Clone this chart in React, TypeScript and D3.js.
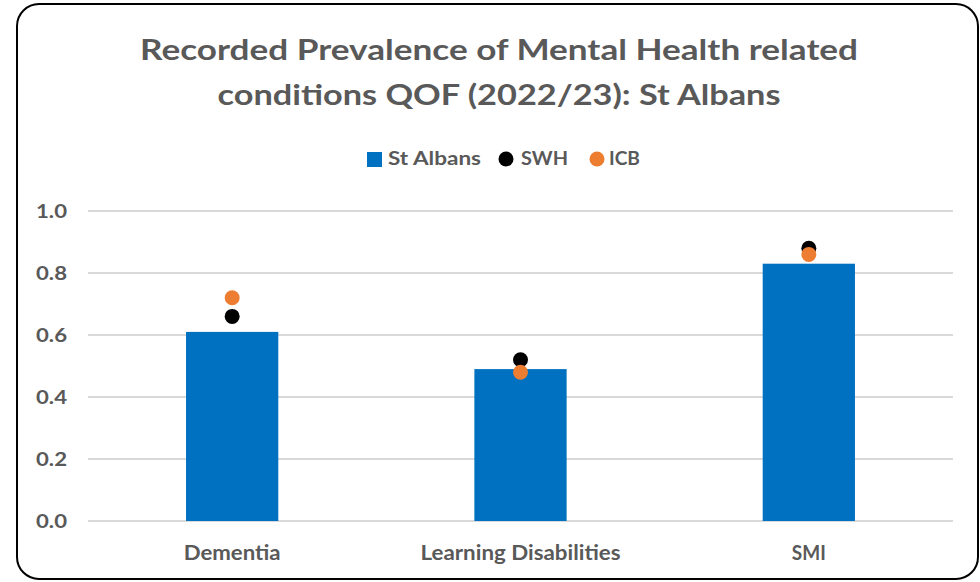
import React from "react";
import * as d3 from "d3";

const categories = ["Dementia", "Learning Disabilities", "SMI"];
const stAlbans = [0.61, 0.49, 0.83];
const swh = [0.66, 0.52, 0.88];
const icb = [0.72, 0.48, 0.86];
const yTicks = [0, 0.2, 0.4, 0.6, 0.8, 1.0];
const titleLines = [
  "Recorded Prevalence of Mental Health related",
  "conditions QOF (2022/23): St Albans",
];
const categoryLabelWidths = [97, 200, 34];

const W = 980;
const H = 582;
const FONT = "Lato, 'Open Sans', sans-serif";
const GREY = "#595959";
const BLUE = "#0070c0";
const ORANGE = "#ed7d31";

export default function App() {
  const x = d3.scaleBand<string>().domain(categories).range([88, 953]).paddingInner(0.68).paddingOuter(0.34);
  const y = d3.scaleLinear().domain([0, 1]).range([521, 211]);
  const bw = x.bandwidth();

  return (
    <svg width={W} height={H} style={{ position: "absolute", left: 0, top: 0 }}>
      <rect x={0} y={0} width={W} height={H} fill="#fff" />
      <rect x={17} y={4} width={961} height={575} rx={22} ry={22} fill="#fff" stroke="#000" strokeWidth={2} />

      {titleLines.map((t, i) => (
        <text
          key={t}
          x={499}
          y={60 + i * 45}
          textAnchor="middle"
          fontFamily={FONT}
          fontWeight={700}
          fontSize={29}
          fill={GREY}
          textLength={i === 0 ? 718 : 563}
          lengthAdjust="spacingAndGlyphs"
        >
          {t}
        </text>
      ))}

      {/* legend */}
      <g fontFamily={FONT} fontWeight={700} fontSize={18} fill={GREY}>
        <rect x={367} y={152} width={15} height={15} fill={BLUE} />
        <text x={388} y={165} textLength={93} lengthAdjust="spacingAndGlyphs">St Albans</text>
        <circle cx={506} cy={159} r={7.5} fill="#000" />
        <text x={521} y={165} textLength={47} lengthAdjust="spacingAndGlyphs">SWH</text>
        <circle cx={597} cy={159} r={7.5} fill={ORANGE} />
        <text x={609} y={165} textLength={31} lengthAdjust="spacingAndGlyphs">ICB</text>
      </g>

      {/* gridlines and y labels */}
      {yTicks.map((t) => (
        <g key={t}>
          <line x1={88} x2={953} y1={y(t)} y2={y(t)} stroke="#d9d9d9" strokeWidth={2} />
          <text
            x={67}
            y={y(t) + 7}
            textAnchor="end"
            fontFamily={FONT}
            fontWeight={700}
            fontSize={19}
            fill={GREY}
            textLength={31}
            lengthAdjust="spacingAndGlyphs"
          >
            {t.toFixed(1)}
          </text>
        </g>
      ))}

      {/* bars */}
      {categories.map((c, i) => (
        <rect key={c} x={x(c)} y={y(stAlbans[i])} width={bw} height={y(0) - y(stAlbans[i])} fill={BLUE} />
      ))}

      {/* markers */}
      {categories.map((c, i) => (
        <g key={c + "m"}>
          <circle cx={(x(c) as number) + bw / 2} cy={y(swh[i])} r={7.5} fill="#000" />
          <circle cx={(x(c) as number) + bw / 2} cy={y(icb[i])} r={7.5} fill={ORANGE} />
        </g>
      ))}

      {/* category labels */}
      {categories.map((c, i) => (
        <text
          key={c + "l"}
          x={(x(c) as number) + bw / 2}
          y={560}
          textAnchor="middle"
          fontFamily={FONT}
          fontWeight={700}
          fontSize={20}
          fill={GREY}
          textLength={categoryLabelWidths[i]}
          lengthAdjust="spacingAndGlyphs"
        >
          {c}
        </text>
      ))}
    </svg>
  );
}
